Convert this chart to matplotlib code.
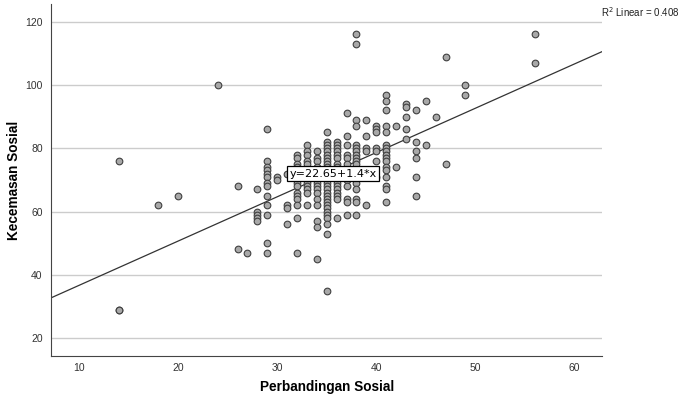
import matplotlib.pyplot as plt

plt.rcParams["font.family"] = ["Liberation Sans", "DejaVu Sans"]

# Perbandingan Sosial (x) -> nilai Kecemasan Sosial (y) per kolom
kolom_x = [14, 18, 20, 24, 26, 27, 28, 29, 30, 31, 32, 33, 34, 35, 36, 37, 38,
           39, 40, 41, 42, 43, 44, 45, 46, 47, 49, 56]
kolom_y = [
    [76, 29, 29],
    [62],
    [65],
    [100],
    [68, 48],
    [47],
    [67, 60, 59, 58, 57],
    [86, 76, 74, 73, 72, 71, 69, 68, 65, 62, 59, 50, 47],
    [71, 70],
    [72, 62, 61, 56],
    [78, 77, 75, 74, 73, 72, 70, 69, 68, 66, 65, 64, 62, 58, 47],
    [81, 79, 78, 76, 75, 73, 72, 71, 69, 68, 67, 66, 62],
    [79, 77, 76, 74, 73, 72, 70, 69, 68, 67, 66, 64, 62, 57, 55, 45],
    [85, 82, 81, 80, 79, 78, 77, 76, 75, 74, 73, 72, 71, 70, 69, 68, 67, 66,
     65, 64, 63, 62, 61, 60, 59, 58, 56, 53, 35],
    [82, 81, 80, 79, 78, 77, 75, 74, 72, 70, 69, 68, 67, 66, 65, 64, 58],
    [91, 84, 81, 78, 77, 75, 73, 71, 70, 68, 64, 63, 59],
    [116, 113, 89, 87, 81, 80, 79, 78, 77, 76, 75, 73, 71, 70, 69, 67, 64, 63, 59],
    [89, 84, 80, 79, 62],
    [87, 86, 85, 80, 79, 76, 71],
    [97, 95, 92, 87, 85, 81, 80, 79, 78, 77, 76, 74, 73, 71, 68, 67, 63],
    [87, 74],
    [94, 93, 90, 86, 83],
    [92, 82, 79, 77, 71, 65],
    [95, 81],
    [90],
    [109, 75],
    [100, 97],
    [116, 107],
]

intercept = 22.65
slope = 1.4
r2 = 0.408

x_ticks = [10, 20, 30, 40, 50, 60]
y_ticks = [20, 40, 60, 80, 100, 120]

xs = []
ys = []
for x, kol in zip(kolom_x, kolom_y):
    for y in kol:
        xs.append(x)
        ys.append(y)

fig = plt.figure(figsize=(6.82, 3.98), dpi=100)
ax = fig.add_axes([0.0748, 0.1055, 0.808, 0.885])

ax.set_xlim(7.17, 62.8)
ax.set_ylim(14.3, 125.7)
ax.set_yticks(y_ticks)
ax.set_xticks(x_ticks)
ax.grid(axis="y", color="#cccccc", linewidth=1)
ax.set_axisbelow(True)

ax.scatter(xs, ys, s=23, facecolor="#a8a8a8", edgecolor="#404040",
           linewidth=0.8, zorder=3)

x0, x1 = ax.get_xlim()
ax.plot([x0, x1], [intercept + slope * x0, intercept + slope * x1],
        color="#333333", linewidth=0.9, zorder=2)

# kotak persamaan garis regresi
ax.text(35.66, 72, f"y={intercept}+{slope}*x", fontsize=8, family="DejaVu Sans",
        ha="center", va="center", zorder=4,
        bbox=dict(boxstyle="square,pad=0.2", facecolor="white",
                  edgecolor="black", linewidth=0.9))

for side in ["top", "right"]:
    ax.spines[side].set_visible(False)
for side in ["left", "bottom"]:
    ax.spines[side].set_color("#444444")
ax.tick_params(axis="x", length=0, labelsize=7.5, labelcolor="#333333", pad=5)
ax.tick_params(axis="y", length=0, labelsize=7.5, labelcolor="#333333", pad=6)

fig.text(0.479, 0.027, "Perbandingan Sosial", fontsize=9.8, fontweight="bold",
         ha="center", va="center")
fig.text(0.020, 0.548, "Kecemasan Sosial", fontsize=9.8, fontweight="bold",
         ha="center", va="center", rotation=90)

fig.text(0.997, 0.97, f"R$^2$ Linear = {r2}", fontsize=7, ha="right",
         va="center", color="#222222")

fig.savefig("out.png", dpi=100)
